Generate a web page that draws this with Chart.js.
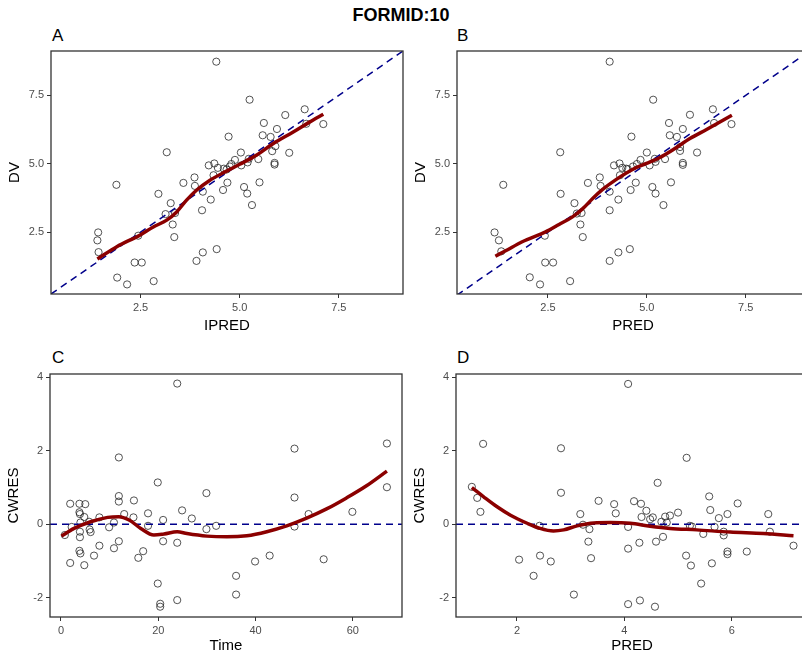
<!DOCTYPE html>
<html>
<head>
<meta charset="utf-8">
<script src="https://cdn.jsdelivr.net/npm/chart.js@4.4.1/dist/chart.umd.min.js"></script>
<style>
  body { margin: 0; width: 802px; height: 662px; overflow: hidden; background: #fff; position: relative;
         font-family: "Liberation Sans", Arial, sans-serif; }
  .box { position: absolute; width: 410px; height: 300px; }
  .lbl { position: absolute; font-size: 17px; line-height: 1; color: #000; }
  #title { position: absolute; left: 0; width: 802px; top: 6px; text-align: center; font-weight: bold;
           font-size: 18px; line-height: 1; }
</style>
</head>
<body>
<div id="title">FORMID:10</div>
<div class="lbl" style="left:52px;top:27px">A</div>
<div class="lbl" style="left:457px;top:27px">B</div>
<div class="lbl" style="left:52px;top:349px">C</div>
<div class="lbl" style="left:457px;top:349px">D</div>
<div class="box" style="left:-1px;top:40px"><canvas id="pA" width="410" height="300"></canvas></div>
<div class="box" style="left:405px;top:40px"><canvas id="pB" width="410" height="300"></canvas></div>
<div class="box" style="left:-2px;top:360px"><canvas id="pC" width="410" height="300"></canvas></div>
<div class="box" style="left:404px;top:360px"><canvas id="pD" width="410" height="300"></canvas></div>
<script>
// A: DV vs IPRED
const aIpred = [4.41,5.25,6.64,6.15,5.61,7.11,5.94,4.72,5.58,5.78,5.82,5.90,6.25,3.16,5.03,4.88,5.23,5.47,5.88,5.88,
  4.36,4.22,4.79,5.04,4.67,4.45,4.34,3.86,3.87,3.58,4.69,4.58,4.07,5.11,5.19,5.50,5.31,4.27,2.95,3.26,
  4.05,3.13,3.37,3.31,3.35,1.89,1.43,1.41,1.44,2.44,2.35,2.53,1.91,2.16,2.83,3.91,4.07,4.42,6.68,4.60,4.75,5.20];
const aDv = [8.73,7.34,6.99,6.78,6.49,6.45,6.27,5.99,6.04,5.98,5.46,5.64,5.40,5.42,5.41,5.14,5.18,5.17,5.03,4.97,
  5.01,4.94,4.99,4.94,4.79,4.85,4.58,4.50,4.19,4.30,4.31,4.04,3.98,4.15,3.91,4.32,3.49,3.69,3.90,3.56,
  3.30,3.16,3.20,2.78,2.32,4.23,2.49,2.20,1.77,2.37,1.39,1.39,0.84,0.59,0.71,1.45,1.76,1.88,6.46,4.82,4.90,5.05];
const aSmoothX = [1.41,1.90,2.48,2.82,3.16,3.41,3.66,3.91,4.25,4.67,5.00,5.42,5.85,6.35,6.77,7.11];
const aSmoothY = [1.52,1.97,2.39,2.69,2.94,3.24,3.67,4.03,4.40,4.73,4.98,5.31,5.74,6.16,6.53,6.81];

// B: DV vs PRED
const bPred = [4.06,5.16,6.67,6.09,5.56,7.14,5.91,4.61,5.58,5.76,5.84,6.27,2.81,5.00,4.84,5.20,5.46,5.91,5.91,4.31,
  4.17,4.75,5.07,4.52,4.38,4.32,3.81,3.83,3.51,4.72,4.59,4.06,5.14,5.22,5.61,5.42,4.28,2.82,3.17,4.06,
  3.23,3.35,3.32,3.38,1.37,1.15,1.26,1.32,2.42,2.43,2.63,2.04,2.30,3.06,4.06,4.28,4.57,6.70,5.84,4.48,4.65,5.22];
const bDv = [8.73,7.34,6.99,6.79,6.49,6.45,6.27,5.99,6.04,5.98,5.47,5.41,5.42,5.41,5.14,5.18,5.17,5.03,4.96,5.01,
  4.94,4.99,4.94,4.80,4.85,4.58,4.50,4.19,4.30,4.31,4.04,3.98,4.15,3.91,4.32,3.49,3.69,3.90,3.56,3.30,
  3.18,3.20,2.78,2.32,4.23,2.49,2.20,1.80,2.37,1.39,1.39,0.85,0.59,0.71,1.45,1.76,1.88,6.49,5.61,4.82,4.90,5.07];
const bSmoothX = [1.17,1.43,1.85,2.44,2.78,3.12,3.38,3.63,3.89,4.22,4.65,4.99,5.33,5.67,6.09,6.51,7.15];
const bSmoothY = [1.62,1.82,2.15,2.51,2.78,3.06,3.36,3.73,4.07,4.42,4.80,5.01,5.23,5.52,5.92,6.25,6.77];

// C: CWRES vs Time
const cTime = [23.9,11.9,48.0,67.0,67.0,19.9,29.9,48.0,11.9,11.9,15.0,1.9,3.8,5.0,3.8,3.9,24.9,59.9,50.9,13.0,
  17.9,26.9,7.9,14.9,21.0,4.8,10.9,5.8,2.2,9.9,17.9,31.9,29.9,48.0,6.1,5.9,3.9,3.9,0.8,11.9,
  21.0,23.9,7.9,10.9,6.8,3.8,4.0,16.9,15.9,1.9,4.8,42.9,39.9,54.0,36.0,36.0,19.9,23.9,20.4,20.4,4.0];
const cCwres = [3.83,1.82,2.06,2.20,1.01,1.14,0.85,0.73,0.77,0.62,0.65,0.56,0.56,0.55,0.33,0.28,0.38,0.34,0.28,0.28,
  0.30,0.16,0.19,0.19,0.12,0.20,0.05,0.07,-0.07,-0.08,-0.04,-0.04,-0.13,-0.06,-0.21,-0.14,-0.20,-0.35,-0.29,-0.46,
  -0.46,-0.50,-0.58,-0.65,-0.85,-0.72,-0.79,-0.73,-0.91,-1.05,-1.11,-0.85,-1.01,-0.95,-1.40,-1.91,-1.61,-2.06,-2.16,-2.24,0.05];
const cSmoothX = [0.1,2.7,6.1,9.6,11.9,14.0,16.4,19.1,21.2,23.9,25.9,30.0,34.1,38.2,42.3,46.4,50.5,54.6,58.7,62.8,67.0];
const cSmoothY = [-0.32,-0.11,0.07,0.19,0.21,0.12,-0.11,-0.29,-0.26,-0.20,-0.25,-0.32,-0.34,-0.31,-0.20,-0.04,0.17,0.42,0.72,1.05,1.45];

// D: CWRES vs PRED
const dPred = [4.07,1.37,2.82,5.16,1.16,1.26,1.32,2.82,4.62,5.58,3.52,4.18,3.81,4.31,6.11,5.60,4.41,3.18,3.84,5.00,
  5.92,6.68,4.32,4.53,4.76,4.85,5.76,4.48,4.69,4.79,3.23,2.42,4.07,5.22,5.26,5.68,3.35,5.85,6.71,5.47,
  5.85,4.72,3.33,4.28,4.59,7.15,4.07,5.92,6.28,5.92,2.43,5.15,3.38,2.04,2.63,5.63,5.24,2.31,5.43,3.06,4.29,4.07,4.57];
const dCwres = [3.82,2.19,2.07,1.81,1.02,0.72,0.34,0.86,1.13,0.76,0.64,0.63,0.55,0.56,0.57,0.39,0.37,0.28,0.30,0.32,
  0.28,0.28,0.20,0.19,0.21,0.24,0.17,0.14,0.07,0.05,-0.01,-0.04,-0.07,-0.04,-0.06,-0.07,-0.13,-0.20,-0.20,-0.26,
  -0.30,-0.34,-0.47,-0.50,-0.47,-0.58,-0.66,-0.74,-0.74,-0.81,-0.85,-0.85,-0.92,-0.96,-1.01,-1.06,-1.12,-1.40,-1.61,-1.91,-2.07,-2.17,-2.24];
const dSmoothX = [1.16,1.38,1.63,1.88,2.19,2.43,2.68,2.87,3.12,3.43,3.74,4.11,4.48,4.85,5.35,5.97,6.59,7.15];
const dSmoothY = [1.00,0.75,0.48,0.25,0.03,-0.11,-0.18,-0.15,-0.04,0.04,0.05,0.03,-0.05,-0.11,-0.15,-0.21,-0.25,-0.31];

const fam = '"Liberation Sans", Arial, sans-serif';
const zip = (xs, ys) => xs.map((x, i) => ({ x, y: ys[i] }));

// panel border
const frame = {
  id: 'frame',
  afterDatasetsDraw(chart) {
    const { ctx, chartArea: a } = chart;
    ctx.save();
    ctx.strokeStyle = '#333';
    ctx.lineWidth = 1.3;
    ctx.strokeRect(a.left, a.top, a.right - a.left, a.bottom - a.top);
    ctx.restore();
  }
};

function axis(min, max, ticks, title, fmt, isY, size) {
  return {
    type: 'linear', min, max,
    afterBuildTicks: s => { s.ticks = ticks.map(v => ({ value: v })); },
    afterFit: s => { if (isY) s.width = size; else s.height = size; },
    ticks: { callback: fmt, color: '#4d4d4d', font: { size: 11, family: fam }, padding: 3, maxRotation: 0, autoSkip: false },
    grid: { display: true, drawOnChartArea: false, drawTicks: true, tickLength: 4, color: '#333', lineWidth: 1 },
    border: { display: false },
    title: { display: true, text: title, color: '#000', font: { size: 15, family: fam },
             padding: isY ? { top: 7, bottom: 0 } : { top: 0, bottom: 5 } }
  };
}

function panel(id, o) {
  new Chart(document.getElementById(id), {
    type: 'scatter',
    data: {
      datasets: [
        { data: zip(o.sx, o.sy), showLine: true, borderColor: '#8b0000', borderWidth: 3.5, pointRadius: 0,
          cubicInterpolationMode: 'monotone', fill: false },
        { data: o.ref, showLine: true, borderColor: '#00008b', borderWidth: 1.5, borderDash: [7, 5],
          pointRadius: 0, fill: false },
        { data: zip(o.x, o.y), pointRadius: 3.6, pointBorderWidth: 1, pointBorderColor: 'rgba(40,40,40,0.8)',
          pointBackgroundColor: 'rgba(0,0,0,0)' }
      ]
    },
    options: {
      responsive: false, animation: false, events: [],
      layout: { padding: { top: o.top, right: 6, left: 0, bottom: 0 } },
      plugins: { legend: { display: false }, tooltip: { enabled: false } },
      scales: {
        x: axis(o.xmin, o.xmax, o.xt, o.xl, o.fmt, false, o.xh),
        y: axis(o.ymin, o.ymax, o.yt, o.yl, o.fmt, true, 52)
      }
    },
    plugins: [frame]
  });
}

const f1 = v => v.toFixed(1);
const f0 = v => String(v);

panel('pA', { x: aIpred, y: aDv, sx: aSmoothX, sy: aSmoothY, ref: [{ x: 0.24, y: 0.24 }, { x: 9.12, y: 9.12 }],
  xmin: 0.24, xmax: 9.12, ymin: 0.24, ymax: 9.12, xt: [2.5, 5, 7.5], yt: [2.5, 5, 7.5],
  xl: 'IPRED', yl: 'DV', fmt: f1, top: 11, xh: 46 });
panel('pB', { x: bPred, y: bDv, sx: bSmoothX, sy: bSmoothY, ref: [{ x: 0.2, y: 0.2 }, { x: 9.12, y: 9.12 }],
  xmin: 0.2, xmax: 9.1, ymin: 0.24, ymax: 9.12, xt: [2.5, 5, 7.5], yt: [2.5, 5, 7.5],
  xl: 'PRED', yl: 'DV', fmt: f1, top: 11, xh: 46 });
panel('pC', { x: cTime, y: cCwres, sx: cSmoothX, sy: cSmoothY, ref: [{ x: -2.25, y: 0 }, { x: 70.1, y: 0 }],
  xmin: -2.25, xmax: 70.1, ymin: -2.52, ymax: 4.09, xt: [0, 20, 40, 60], yt: [-2, 0, 2, 4],
  xl: 'Time', yl: 'CWRES', fmt: f0, top: 14, xh: 43 });
panel('pD', { x: dPred, y: dCwres, sx: dSmoothX, sy: dSmoothY, ref: [{ x: 0.865, y: 0 }, { x: 7.42, y: 0 }],
  xmin: 0.865, xmax: 7.42, ymin: -2.52, ymax: 4.09, xt: [2, 4, 6], yt: [-2, 0, 2, 4],
  xl: 'PRED', yl: 'CWRES', fmt: f0, top: 14, xh: 43 });
</script>
</body>
</html>
